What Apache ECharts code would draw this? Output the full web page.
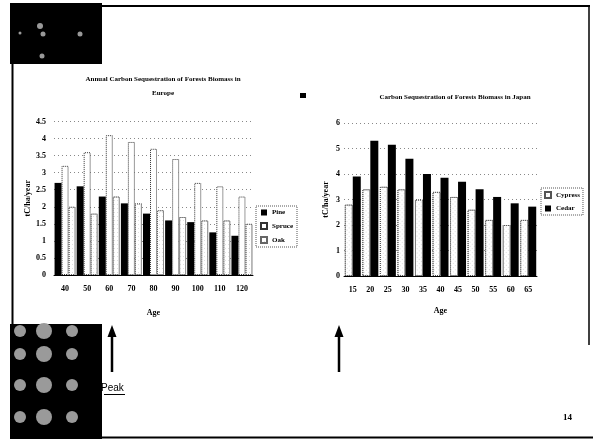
<!DOCTYPE html>
<html>
<head>
<meta charset="utf-8">
<script src="https://cdn.jsdelivr.net/npm/echarts@6/dist/echarts.min.js"></script>
<style>html,body{margin:0;padding:0;background:#fff;}#c{width:593px;height:439px;}</style>
</head>
<body>
<div id="c"></div>
<script>
// Europe chart data
var euAges = ['40','50','60','70','80','90','100','110','120'];
var euPine = [2.7, 2.6, 2.3, 2.1, 1.8, 1.6, 1.55, 1.25, 1.15];
var euSpruce = [3.2, 3.6, 4.1, 3.9, 3.7, 3.4, 2.7, 2.6, 2.3];
var euOak = [2.0, 1.8, 2.3, 2.1, 1.9, 1.7, 1.6, 1.6, 1.5];
// Japan chart data
var jpAges = ['15','20','25','30','35','40','45','50','55','60','65'];
var jpCypress = [2.8, 3.4, 3.5, 3.4, 3.0, 3.3, 3.1, 2.6, 2.2, 2.0, 2.2];
var jpCedar = [3.9, 5.3, 5.15, 4.6, 4.0, 3.85, 3.7, 3.4, 3.1, 2.85, 2.72];

var FONT = 'Liberation Serif';
var lbl = {fontFamily: FONT, fontWeight: 'bold', fontSize: 8, color: '#000'};
var chart = echarts.init(document.getElementById('c'));

var blobs = [];
[20, 44, 72].forEach(function (cx, i) {
  [331, 354, 385, 417].forEach(function (cy, j) {
    blobs.push({type: 'circle', shape: {cx: cx, cy: cy, r: (i === 1 ? 8 : 6)}, style: {fill: '#9a9a9a'}});
  });
});

chart.setOption({
  animation: false,
  backgroundColor: '#fff',
  title: [
    {text: 'Annual Carbon Sequestration of Forests Biomass in\nEurope', left: 158, top: 67, textAlign: 'center',
     textStyle: {fontFamily: FONT, fontWeight: 'bold', fontSize: 7, lineHeight: 14, color: '#000'}},
    {text: 'Carbon Sequestration of Forests Biomass in Japan', left: 450, top: 89, textAlign: 'center',
     textStyle: {fontFamily: FONT, fontWeight: 'bold', fontSize: 7, color: '#000'}}
  ],
  legend: [
    {data: ['Pine', 'Spruce', 'Oak'], orient: 'vertical', left: 256, top: 206, itemWidth: 6, itemHeight: 6, itemGap: 6,
     icon: 'rect', padding: [3, 4], borderColor: '#555', borderWidth: 1, borderType: 'dotted',
     textStyle: {fontFamily: FONT, fontWeight: 'bold', fontSize: 7, color: '#000'}},
    {data: ['Cypress', 'Cedar'], orient: 'vertical', left: 541, top: 188, itemWidth: 6, itemHeight: 6, itemGap: 6,
     icon: 'rect', padding: [3, 3], borderColor: '#555', borderWidth: 1, borderType: 'dotted',
     textStyle: {fontFamily: FONT, fontWeight: 'bold', fontSize: 7, color: '#000'}}
  ],
  grid: [
    {left: 54, right: 340, top: 121.5, bottom: 164},
    {left: 344, right: 56, top: 123, bottom: 163}
  ],
  xAxis: [
    {type: 'category', gridIndex: 0, data: euAges, name: 'Age', nameLocation: 'middle', nameGap: 34,
     nameTextStyle: lbl, axisLabel: Object.assign({margin: 10}, lbl),
     axisTick: {show: false}, axisLine: {lineStyle: {color: '#000', width: 1}}},
    {type: 'category', gridIndex: 1, data: jpAges, name: 'Age', nameLocation: 'middle', nameGap: 31,
     nameTextStyle: lbl, axisLabel: Object.assign({margin: 10}, lbl),
     axisTick: {show: false}, axisLine: {lineStyle: {color: '#000', width: 1}}}
  ],
  yAxis: [
    {type: 'value', gridIndex: 0, min: 0, max: 4.5, interval: 0.5, name: 'tC/ha/year', nameLocation: 'middle', nameGap: 22,
     nameTextStyle: lbl, axisLabel: Object.assign({margin: 8}, lbl),
     axisLine: {show: false}, axisTick: {show: false},
     splitLine: {lineStyle: {color: '#888', type: [1, 3], width: 1}}},
    {type: 'value', gridIndex: 1, min: 0, max: 6, interval: 1, name: 'tC/ha/year', nameLocation: 'middle', nameGap: 14,
     nameTextStyle: lbl, axisLabel: Object.assign({margin: 4}, lbl),
     axisLine: {show: false}, axisTick: {show: false},
     splitLine: {lineStyle: {color: '#888', type: [1, 3], width: 1}}}
  ],
  series: [
    {name: 'Pine', type: 'bar', xAxisIndex: 0, yAxisIndex: 0, data: euPine, barWidth: 7, barGap: '0%',
     itemStyle: {color: '#000'}},
    {name: 'Spruce', type: 'bar', xAxisIndex: 0, yAxisIndex: 0, data: euSpruce, barWidth: 7,
     itemStyle: {color: '#fff', borderColor: '#333', borderWidth: 1, borderType: 'dotted'}},
    {name: 'Oak', type: 'bar', xAxisIndex: 0, yAxisIndex: 0, data: euOak, barWidth: 7,
     itemStyle: {color: '#fff', borderColor: '#666', borderWidth: 1, borderType: 'dotted',
       decal: {symbol: 'rect', symbolSize: 0.5, color: '#888', dashArrayX: [1, 2], dashArrayY: [1, 3], rotation: 0}}},
    {name: 'Cypress', type: 'bar', xAxisIndex: 1, yAxisIndex: 1, data: jpCypress, barWidth: 8, barGap: '0%',
     itemStyle: {color: '#fff', borderColor: '#555', borderWidth: 1, borderType: 'dotted',
       decal: {symbol: 'circle', symbolSize: 0.7, color: '#777', dashArrayX: [1, 2], dashArrayY: [1, 2], rotation: 0.78}}},
    {name: 'Cedar', type: 'bar', xAxisIndex: 1, yAxisIndex: 1, data: jpCedar, barWidth: 8,
     itemStyle: {color: '#000'}}
  ],
  graphic: [
    {type: 'rect', shape: {x: 10, y: 3, width: 92, height: 61}, style: {fill: '#000'}},
    {type: 'circle', shape: {cx: 40, cy: 26, r: 3}, style: {fill: '#999'}},
    {type: 'circle', shape: {cx: 43, cy: 34, r: 2.5}, style: {fill: '#999'}},
    {type: 'circle', shape: {cx: 20, cy: 33, r: 1.5}, style: {fill: '#999'}},
    {type: 'circle', shape: {cx: 80, cy: 34, r: 2.5}, style: {fill: '#999'}},
    {type: 'circle', shape: {cx: 42, cy: 56, r: 2.5}, style: {fill: '#999'}},
    {type: 'line', shape: {x1: 101, y1: 6, x2: 590, y2: 6}, style: {stroke: '#000', lineWidth: 2}},
    {type: 'line', shape: {x1: 589, y1: 6, x2: 589, y2: 345}, style: {stroke: '#000', lineWidth: 1.5}},
    {type: 'line', shape: {x1: 12.5, y1: 64, x2: 12.5, y2: 325}, style: {stroke: '#000', lineWidth: 2}},
    {type: 'line', shape: {x1: 102, y1: 437.5, x2: 593, y2: 437.5}, style: {stroke: '#000', lineWidth: 2}},
    {type: 'rect', shape: {x: 10, y: 324, width: 92, height: 115}, style: {fill: '#000'}},
    {type: 'group', children: blobs},
    {type: 'polygon', shape: {points: [[112, 325], [107.5, 337], [116.5, 337]]}, style: {fill: '#000'}},
    {type: 'line', shape: {x1: 112, y1: 335, x2: 112, y2: 372}, style: {stroke: '#000', lineWidth: 2.5}},
    {type: 'polygon', shape: {points: [[339, 325], [334.5, 337], [343.5, 337]]}, style: {fill: '#000'}},
    {type: 'line', shape: {x1: 339, y1: 335, x2: 339, y2: 372}, style: {stroke: '#000', lineWidth: 2.5}},
    {type: 'text', style: {x: 101, y: 383, text: 'Peak', font: '10px "Liberation Sans"', fill: '#000'}},
    {type: 'line', shape: {x1: 104, y1: 394.5, x2: 125, y2: 394.5}, style: {stroke: '#000', lineWidth: 1}},
    {type: 'text', style: {x: 563, y: 413, text: '14', font: 'bold 9px "Liberation Serif"', fill: '#000'}},
    {type: 'rect', shape: {x: 300, y: 93, width: 6, height: 5}, style: {fill: '#000'}}
  ]
});
</script>
</body>
</html>
